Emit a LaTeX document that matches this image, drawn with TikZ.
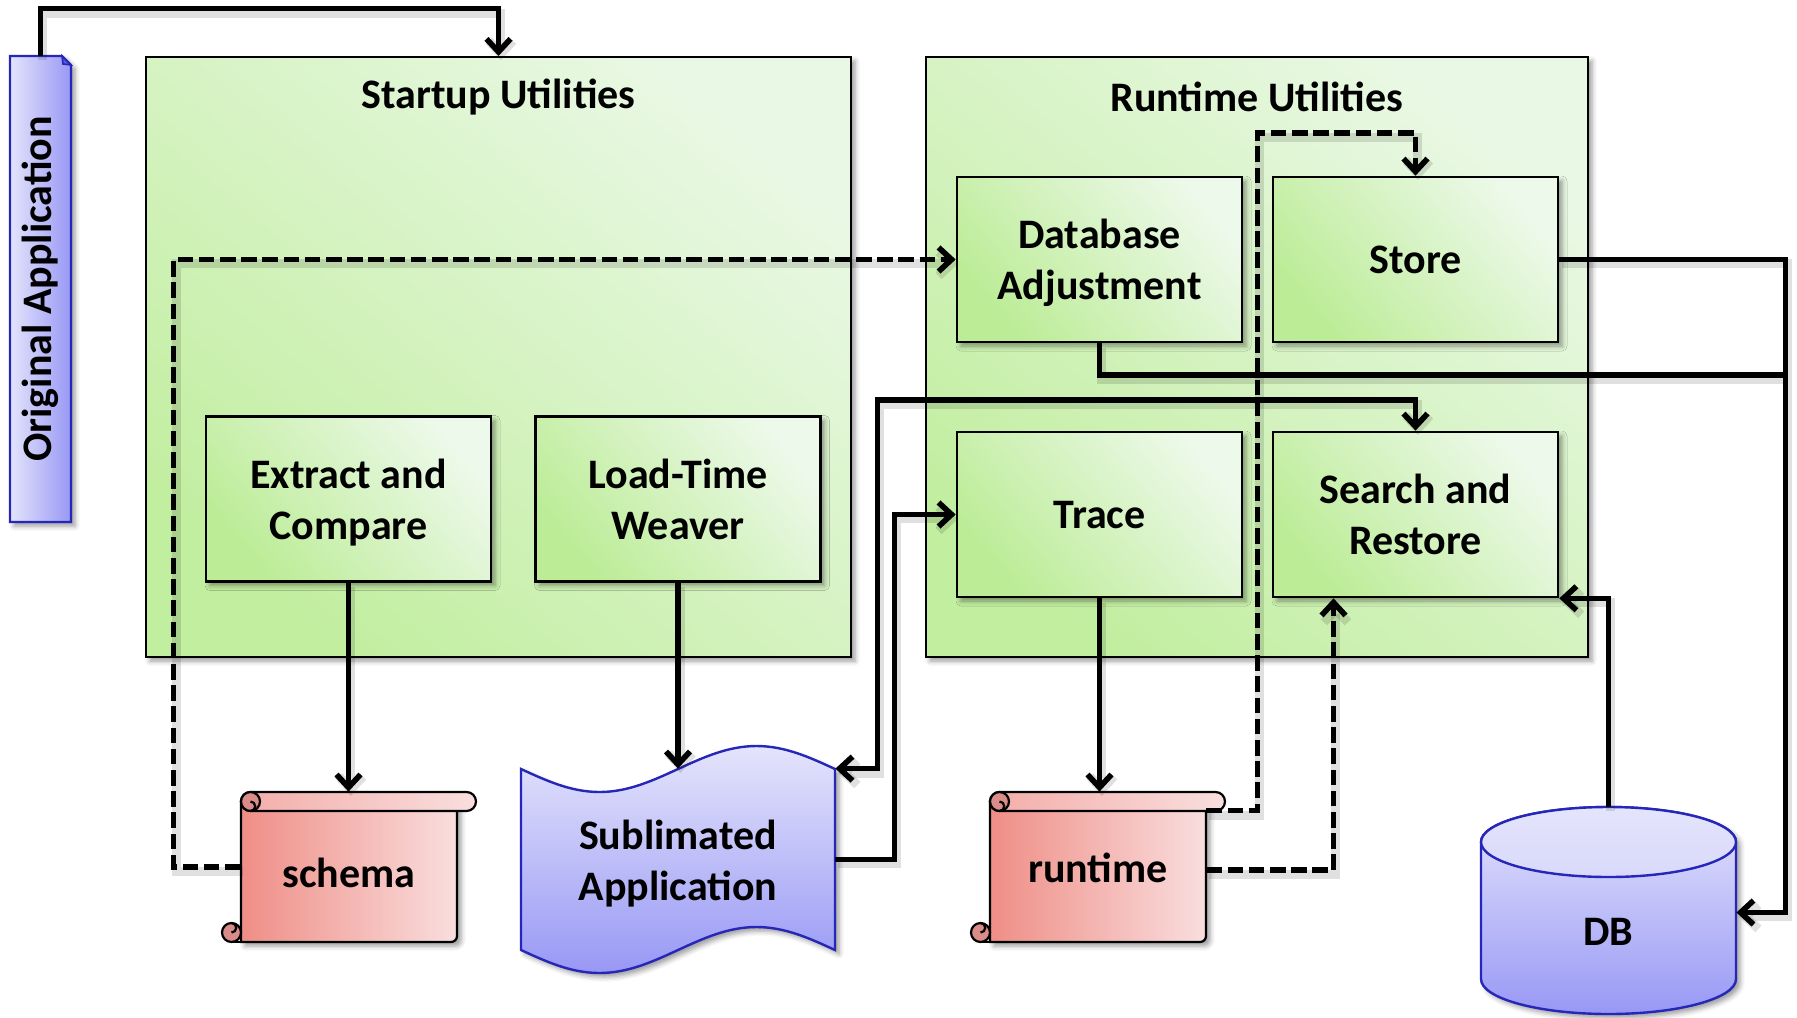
\documentclass[tikz,border=0pt]{standalone}
\usepackage{fontspec}
\setmainfont{Carlito}
\usetikzlibrary{arrows.meta,shadows.blur,calc}

\definecolor{gpale}{HTML}{EDF9EA}
\definecolor{gdeep}{HTML}{BCEC96}
\definecolor{ppale}{HTML}{E9F8E4}
\definecolor{pdeep}{HTML}{C2EEA0}
\definecolor{bpale}{HTML}{E4E4FC}
\definecolor{bdeep}{HTML}{9898F5}
\definecolor{bline}{HTML}{2626B8}
\definecolor{rpale}{HTML}{F9DEDE}
\definecolor{rdeep}{HTML}{EF8E86}
\definecolor{rcurl}{HTML}{D98C88}

\tikzset{
  lbl/.style={font=\bfseries\fontsize{21}{25.5}\selectfont, align=center, inner sep=0pt},
  softshadow/.style={blur shadow={shadow xshift=2pt, shadow yshift=-2pt, shadow blur radius=2.5pt, shadow opacity=40}},
  panel/.style={draw=black, line width=1pt, top color=ppale, bottom color=pdeep, shading angle=-40, softshadow},
  unit/.style={lbl, text depth=0pt, draw=black, line width=1.3pt, top color=gpale, bottom color=gdeep, shading angle=-50,
    minimum width=142.5pt, minimum height=82.5pt, softshadow},
  holder/.style={draw=none, inner sep=0pt},
  conn/.style={line width=2.8pt,
    preaction={draw=black, draw opacity=0.12, line width=4.5pt, transform canvas={xshift=1.2pt, yshift=-2.2pt}}},
  tipend/.style={-{Straight Barb[length=6.5pt,width=12pt]}},
  tipboth/.style={{Straight Barb[length=6.5pt,width=12pt]}-{Straight Barb[length=6.5pt,width=12pt]}},
  dsh/.style={dash pattern=on 7.8pt off 2.8pt},
  blueshape/.style={draw=bline, line width=1.2pt, top color=bpale, bottom color=bdeep},
  scrollline/.style={draw=black, line width=1.1pt},
}

% horizontal scroll: #1,#2 = top-left corner of the rolled bar; the body hangs below it
\newcommand\scrollglyph[2]{%
  \begin{scope}[shift={(#1,#2)}]
    \path[scrollline, left color=rdeep, right color=rpale, softshadow]
      (0,9.5) -- (0,150) [rounded corners=3pt] -- (216,150) -- (216,9.5) [sharp corners] -- cycle;
    \path[scrollline, left color=rdeep!60!rpale, right color=rpale]
      (9.5,0) -- (225.5,0) arc[start angle=-90, end angle=90, radius=9.5]
      -- (9.5,19) arc[start angle=90, end angle=270, radius=9.5] -- cycle;
    \draw[scrollline, fill=rcurl] (9.5,9.5) circle[radius=9.5];
    \draw[scrollline] (9.5,19) arc[start angle=90, end angle=-90, radius=4.75];
    \draw[scrollline, fill=rcurl] (-9.5,140.5) circle[radius=9.5];
    \draw[scrollline] (-9.5,131) arc[start angle=-90, end angle=90, radius=4.75];
    \draw[scrollline] (-9.5,150) -- (0,150);
  \end{scope}}

\begin{document}
\begin{tikzpicture}[x=0.5pt, y=-0.5pt]
\useasboundingbox (0,0) rectangle (1797,1017);

% ---------------- panels ----------------
\node[panel, minimum width=352.5pt, minimum height=300pt] (su) at (498.5,357) {};
\node[panel, minimum width=331pt, minimum height=300pt] (ru) at (1257,357) {};
\node[lbl] (sut) at (498.5,97) {Startup Utilities};
\node[lbl] (rut) at (1257,97) {Runtime Utilities};

% ---------------- utility boxes ----------------
\node[unit] (ec)  at (348.5,499)   {Extract and\\Compare};
\node[unit] (ltw) at (678,499)     {Load-Time\\Weaver};
\node[unit] (da)  at (1099.5,259.5) {Database\\Adjustment};
\node[unit] (st)  at (1415.5,259.5) {Store};
\node[unit] (tr)  at (1099.5,514.5) {Trace};
\node[unit] (sr)  at (1415.5,514.5) {Search and\\Restore};

% ---------------- original application ----------------
\path[blueshape, left color=bpale, right color=bdeep, softshadow]
  (10,56) -- (62,56) -- (71,65) -- (71,522) -- (10,522) -- cycle;
\path[draw=bline, line width=0.8pt, fill=bline!55!bdeep] (62,56) -- (71,65) -- (63,64) -- cycle;
\node[lbl, holder, rotate=90, minimum width=233pt, minimum height=30.5pt] (oa) at (40.5,289) {Original Application};

% ---------------- sublimated application (tape) ----------------
\path[blueshape, softshadow]
  (521,769) sin (599.5,792) cos (678,769) sin (756.5,746) cos (835,769)
  -- (835,950) sin (756.5,927) cos (678,950) sin (599.5,973) cos (521,950) -- cycle;
\node[holder, minimum width=157pt, minimum height=90.5pt] (sub) at (678,859.5) {};
\node[lbl] (sublbl) at (678,864) {Sublimated\\Application};

% ---------------- scrolls ----------------
\scrollglyph{241}{792}
\node[holder, minimum width=108pt, minimum height=75pt] (schema) at (349,867) {};
\node[lbl] (schemalbl) at (349,873) {schema};
\scrollglyph{990}{792}
\node[holder, minimum width=108pt, minimum height=75pt] (rt) at (1098,867) {};
\node[lbl] (rtlbl) at (1098,868) {runtime};

% ---------------- database ----------------
\path[blueshape, softshadow]
  (1481,842) -- (1481,979) arc[start angle=180, end angle=0, x radius=127.5, y radius=35]
  -- (1736,842) arc[start angle=0, end angle=-180, x radius=127.5, y radius=35] -- cycle;
\path[draw=bline, line width=1.2pt, top color=bpale, bottom color=bpale!85!bdeep]
  (1608.5,842) ellipse[x radius=127.5, y radius=35];
\node[holder, minimum width=127.5pt, minimum height=103.5pt] (db) at (1608.5,910.5) {};
\node[lbl] (dblbl) at (1608.5,932) {DB};

\coordinate (junc) at (1784,375);

% ---------------- connectors ----------------
\draw[conn, tipend] (oa.east) -- ++(0,-47) -| (su.north);
\draw[conn, tipend] (ec.south) -- (ec.south |- schema.north);
\draw[conn, tipend] (ltw.south) -- (sub.north);
\draw[conn, tipend] (tr.south) -- (tr.south |- rt.north);
\draw[conn, tipend, dsh] (schema.west) -- ++(-67,0) |- (da.west);
\draw[conn, tipend] (sub.east) -- ++(59,0) |- (tr.west);
\draw[conn, tipboth] (sub.north east) -- ++(42,0) |- (1415.5,400) -- (sr.north);
\draw[conn, tipend, dsh] ([yshift=-9.5pt]rt.north east) -- ++(51,0) |- (1415.5,133) -- (st.north);
\draw[conn, tipend, dsh] ([yshift=-1.5pt]rt.east) -| ([xshift=-41pt]sr.south);
\draw[conn, tipend] (st.east) -- ++(226,0) |- ([yshift=-1pt]db.east);
\draw[conn] (da.south) |- (junc);
\draw[conn, tipend] (db.north) |- (sr.south east);
\end{tikzpicture}
\end{document}
